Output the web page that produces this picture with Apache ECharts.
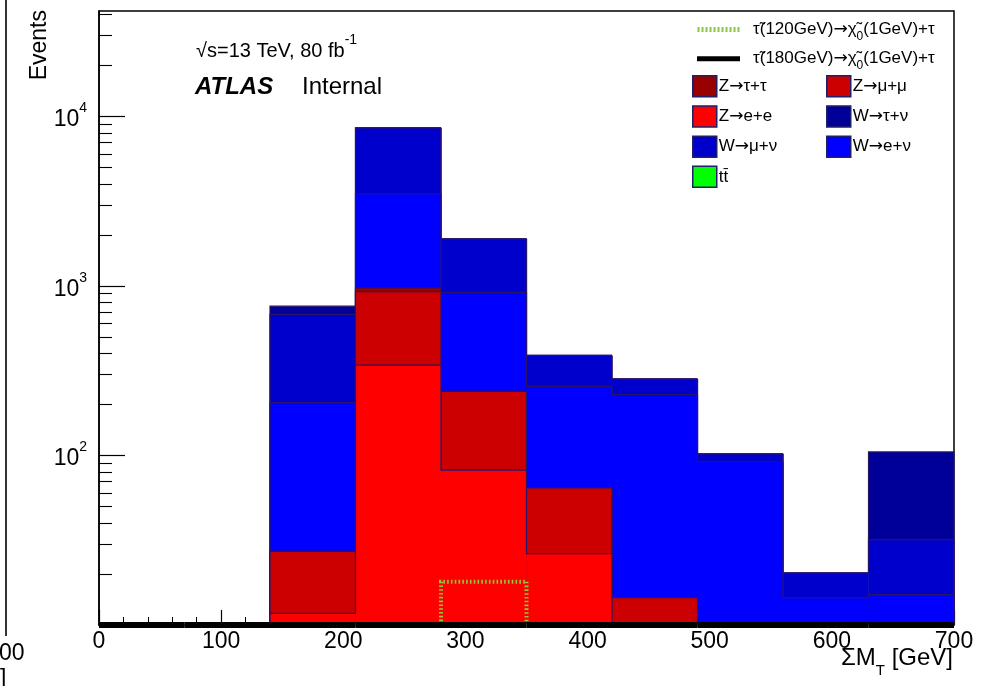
<!DOCTYPE html>
<html><head><meta charset="utf-8">
<script src="https://cdn.jsdelivr.net/npm/echarts@6/dist/echarts.min.js"></script>
<style>html,body{margin:0;padding:0;background:#fff}#c{width:988px;height:686px}</style>
</head><body><div id="c"></div>
<script>
// ---------------- data ----------------
const binEdges = [0, 70, 140, 210, 280, 350, 420, 490, 560, 630, 700];
// per-bin contributions (events), stacked bottom -> top
const ttbar   = [0, 0, 0, 0, 0, 0, 0, 0, 0, 0];
const zee     = [0, 0, 11.7, 341, 82, 26.4, 0, 0, 0, 0];
const zmumu   = [0, 0, 15.5, 584, 157, 38, 14.5, 0, 0, 0];
const ztautau = [0, 0, 0, 50, 0, 0, 0, 0, 0, 0];
const wenu    = [0, 0, 178, 2525, 679, 191, 214.5, 92.5, 14.5, 15.1];
const wmunu   = [0, 0, 474, 5070, 980, 134, 54, 9.8, 5.8, 16.8];
const wtaunu  = [0, 0, 81, 0, 0, 0, 0, 0, 0, 73];
const sig120  = [0, 0, 0, 0, 18, 0, 0, 0, 0, 0];
const sig180  = [0, 0, 0, 0, 0, 0, 0, 0, 0, 0];
const xTickInterval = 100;
const yMajorTicks = [100, 1000, 10000];
const Y_MIN = 10, Y_MAX = 41900;

// ---------------- styles ----------------
const FONT = '"Liberation Sans", Arial, "DejaVu Sans", sans-serif';
const OUTLINE = '#2a1466';
const layers = [
  {name: 'tt\u0304', vals: ttbar, color: '#00ff00'},
  {name: 'Z\u2192e+e', vals: zee, color: '#ff0000'},
  {name: 'Z\u2192\u03bc+\u03bc', vals: zmumu, color: '#cc0000'},
  {name: 'Z\u2192\u03c4+\u03c4', vals: ztautau, color: '#990000'},
  {name: 'W\u2192e+\u03bd', vals: wenu, color: '#0000ff'},
  {name: 'W\u2192\u03bc+\u03bd', vals: wmunu, color: '#0000cc'},
  {name: 'W\u2192\u03c4+\u03bd', vals: wtaunu, color: '#000099'}
];
const SIG120 = '\u03c4\u0303(120GeV)\u2192\u03c7\u0303\u2080(1GeV)+\u03c4';
const SIG180 = '\u03c4\u0303(180GeV)\u2192\u03c7\u0303\u2080(1GeV)+\u03c4';

const nb = binEdges.length - 1;
let run = new Array(nb).fill(0);
layers.forEach(l => { run = run.map((r, i) => r + l.vals[i]); l.cum = run.slice(); });

function histData(cum) {
  const d = [];
  for (let i = 0; i < nb; i++) d.push([binEdges[i], binEdges[i + 1], cum[i], i > 0 ? cum[i - 1] : 0, i === nb - 1 ? 1 : 0]);
  return d;
}
const clampY = v => Math.min(Math.max(v, Y_MIN), Y_MAX);

function makeRender(opt) {
  return function (params, api) {
    const lo = api.value(0), hi = api.value(1), v = api.value(2), vp = api.value(3), last = api.value(4);
    const tl = api.coord([lo, clampY(v)]);
    const br = api.coord([hi, Y_MIN]);
    const pv = api.coord([lo, clampY(vp)]);
    const pts = [[tl[0], pv[1]], tl, [br[0], tl[1]]];
    if (last) pts.push([br[0], br[1]]);
    const ch = [];
    if (opt.fill) ch.push({type: 'rect', z2: params.seriesIndex,
      shape: {x: tl[0], y: tl[1], width: br[0] - tl[0], height: br[1] - tl[1]},
      style: {fill: opt.fill}});
    ch.push({type: 'polyline', z2: params.seriesIndex, shape: {points: pts},
      style: {stroke: opt.stroke, lineWidth: opt.lineWidth, lineDash: opt.lineDash || null, fill: null}});
    return {type: 'group', children: ch};
  };
}

const series = [];
layers.slice().reverse().forEach(l => {
  series.push({type: 'custom', name: l.name, data: histData(l.cum), encode: {x: [0, 1], y: 2},
    itemStyle: {color: l.color}, silent: true, animation: false,
    renderItem: makeRender({fill: l.color, stroke: OUTLINE, lineWidth: 1.2})});
});
series.push({type: 'custom', name: SIG120, data: histData(sig120), encode: {x: [0, 1], y: 2},
  itemStyle: {color: '#8cc63f'}, silent: true, animation: false,
  renderItem: makeRender({stroke: '#96c43c', lineWidth: 4, lineDash: [1.6, 2.2]})});
series.push({type: 'custom', name: SIG180, data: histData(sig180), encode: {x: [0, 1], y: 2},
  itemStyle: {color: '#000'}, silent: true, animation: false,
  renderItem: makeRender({stroke: '#000', lineWidth: 6})});

let dotPath = 'path://';
for (let i = 0; i < 11; i++) dotPath += 'M' + (i * 4) + ',0h2v5h-2z';

const minorY = [];
for (let d = 10; d < Y_MAX; d *= 10) for (let k = 2; k <= 9; k++) if (k * d <= Y_MAX) minorY.push(k * d);

// rich-text legend labels: wider arrow glyph and a real subscript
function richName(name) {
  let out = '';
  for (const part of name.split(/(\u2192|\u2080)/)) {
    if (!part) continue;
    if (part === '\u2192') out += '{ar|\u2192}';
    else if (part === '\u2080') out += '{sub|0}';
    else out += '{n|' + part + '}';
  }
  return out;
}
const legRich = size => ({
  n: {fontFamily: FONT, fontSize: size, color: '#000', lineHeight: size * 1.5},
  ar: {fontFamily: '"DejaVu Sans", sans-serif', fontSize: size, color: '#000', lineHeight: size * 1.5},
  sub: {fontFamily: FONT, fontSize: Math.round(size * 0.72), color: '#000', verticalAlign: 'bottom', lineHeight: size * 1.5}
});

const chart = echarts.init(document.getElementById('c'), null, {renderer: 'canvas'});
chart.setOption({
  animation: false,
  backgroundColor: '#fff',
  textStyle: {fontFamily: FONT},
  grid: {left: 99, right: 34, top: 11, bottom: 61, show: true, borderColor: '#000', borderWidth: 1.5, backgroundColor: 'transparent'},
  xAxis: {type: 'value', min: 0, max: 700, interval: xTickInterval,
    axisLine: {show: true, onZero: false, lineStyle: {color: '#000', width: 1.5}},
    axisTick: {show: true, inside: true, length: 15, lineStyle: {color: '#000', width: 1.2}},
    minorTick: {show: true, splitNumber: 5, length: 8, lineStyle: {color: '#000', width: 1}},
    axisLabel: {color: '#000', fontSize: 23, fontFamily: FONT, margin: 5},
    splitLine: {show: false}},
  yAxis: [
    {type: 'log', logBase: 10, min: Y_MIN, max: Y_MAX,
      axisLine: {show: true, lineStyle: {color: '#000', width: 1.5}},
      axisTick: {show: true, inside: true, length: 26, customValues: yMajorTicks, lineStyle: {color: '#000', width: 1.2}},
      axisLabel: {customValues: yMajorTicks, margin: 12, color: '#000',
        formatter: v => '{b|10}{s|' + Math.round(Math.log10(v)) + '}',
        rich: {b: {fontSize: 23, lineHeight: 30, verticalAlign: 'bottom', fontFamily: FONT, color: '#000'},
               s: {fontSize: 14, lineHeight: 30, verticalAlign: 'top', fontFamily: FONT, color: '#000'}}},
      splitLine: {show: false}, minorTick: {show: false}},
    {type: 'log', logBase: 10, min: Y_MIN, max: Y_MAX, position: 'left',
      axisLine: {show: false},
      axisTick: {show: true, inside: true, length: 13, customValues: minorY, lineStyle: {color: '#000', width: 1.1}},
      axisLabel: {show: false}, splitLine: {show: false}}
  ],
  legend: [
    {orient: 'vertical', left: 697, top: 21, itemWidth: 43, itemHeight: 5, itemGap: 8, padding: 0,
      selectedMode: false, formatter: richName,
      textStyle: {fontSize: 17, fontFamily: FONT, color: '#000', padding: [0, 0, 0, 8], rich: legRich(17)},
      data: [{name: SIG120, icon: dotPath, itemStyle: {color: '#8cc63f', borderWidth: 0}},
             {name: SIG180, icon: 'rect', itemStyle: {color: '#000', borderWidth: 0}}]},
    {orient: 'vertical', left: 692, top: 75, itemWidth: 24, itemHeight: 21, itemGap: 7.7, padding: 0,
      selectedMode: false, icon: 'rect', itemStyle: {borderColor: '#1f1f6a', borderWidth: 1.5},
      formatter: richName,
      textStyle: {fontSize: 17, fontFamily: FONT, color: '#000', padding: [0, 0, 0, -3], rich: legRich(17)},
      data: ['Z\u2192\u03c4+\u03c4', 'Z\u2192e+e', 'W\u2192\u03bc+\u03bd', 'tt\u0304']},
    {orient: 'vertical', left: 826, top: 75, itemWidth: 24, itemHeight: 21, itemGap: 7.7, padding: 0,
      selectedMode: false, icon: 'rect', itemStyle: {borderColor: '#1f1f6a', borderWidth: 1.5},
      formatter: richName,
      textStyle: {fontSize: 17, fontFamily: FONT, color: '#000', padding: [0, 0, 0, -3], rich: legRich(17)},
      data: ['Z\u2192\u03bc+\u03bc', 'W\u2192\u03c4+\u03bd', 'W\u2192e+\u03bd']}
  ],
  graphic: [
    {type: 'text', x: 196, y: 47, style: {text: '{a|\u221as=13 TeV, 80 fb}{s|-1}', verticalAlign: 'middle',
      rich: {a: {fontSize: 20, fontFamily: FONT, fill: '#000', lineHeight: 28, verticalAlign: 'bottom'},
             s: {fontSize: 14, fontFamily: FONT, fill: '#000', lineHeight: 28, verticalAlign: 'top'}}}},
    {type: 'text', x: 195, y: 87, style: {text: 'ATLAS', font: 'italic bold 24px ' + FONT, fill: '#000', verticalAlign: 'middle'}},
    {type: 'text', x: 302, y: 87, style: {text: 'Internal', font: '24px ' + FONT, fill: '#000', verticalAlign: 'middle'}},
    {type: 'text', x: 40, y: 10, rotation: Math.PI / 2, style: {text: 'Events', font: '23px ' + FONT, fill: '#000', align: 'right', verticalAlign: 'middle'}},
    {type: 'text', x: 953, y: 662, style: {text: '{a|\u03a3M}{t|T}{a| [GeV]}', align: 'right', verticalAlign: 'middle',
      rich: {a: {fontSize: 24, fontFamily: FONT, fill: '#000', lineHeight: 32, verticalAlign: 'top'},
             t: {fontSize: 15, fontFamily: FONT, fill: '#000', lineHeight: 32, verticalAlign: 'bottom'}}}},
    {type: 'line', shape: {x1: 6, y1: 0, x2: 6, y2: 636}, style: {stroke: '#333', lineWidth: 2}},
    {type: 'text', x: -1, y: 654, style: {text: '00', font: '23px ' + FONT, fill: '#000', verticalAlign: 'middle'}},
    {type: 'text', x: 0, y: 680, style: {text: ']', font: '23px ' + FONT, fill: '#000', verticalAlign: 'middle'}}
  ],
  series: series
});
</script>
</body></html>
